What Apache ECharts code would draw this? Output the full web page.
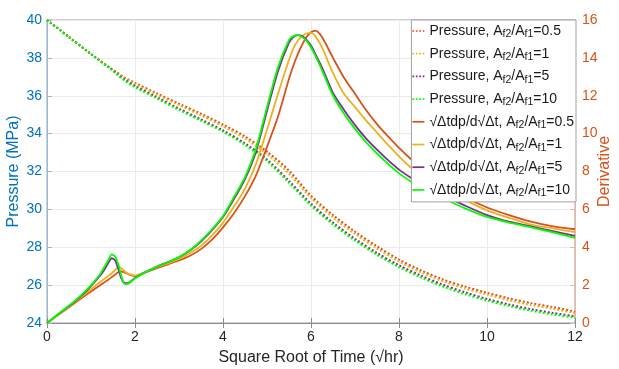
<!DOCTYPE html>
<html>
<head>
<meta charset="utf-8">
<script src="https://cdn.jsdelivr.net/npm/echarts@6/dist/echarts.min.js"></script>
<style>
  html, body { margin: 0; padding: 0; background: #fff; }
  #chart { width: 619px; height: 369px; }
</style>
</head>
<body>
<div id="chart"></div>
<script>
// Square root of time (√hr) sample points for the derivative curves
const derivTime = [0, 0.3, 0.6, 0.9, 1.2, 1.3, 1.4, 1.47, 1.55, 1.62, 1.7, 1.77, 1.85, 2.0, 2.25, 2.5, 2.75, 3.0, 3.25, 3.5, 3.75, 4.0, 4.25, 4.5, 4.75, 5.0, 5.25, 5.5, 5.6, 5.7, 5.8, 5.9, 6.0, 6.1, 6.25, 6.5, 6.75, 7.0, 7.25, 7.5, 7.75, 8.0, 8.25, 8.5, 9.0, 9.5, 10, 10.5, 11, 11.5, 12];

// √Δt dp/d√Δt derivative for each fracture area ratio
const deriv05 = [0, 0.5, 1.0, 1.5, 1.98, 2.14, 2.3, 2.42, 2.56, 2.68, 2.72, 2.66, 2.58, 2.48, 2.68, 2.9, 3.1, 3.3, 3.55, 3.9, 4.4, 5.05, 5.8, 6.7, 7.8, 9.3, 10.9, 12.9, 13.6, 14.2, 14.7, 15.1, 15.35, 15.44, 15.1, 14.0, 12.95, 12.1, 11.25, 10.5, 9.85, 9.25, 8.7, 8.2, 7.4, 6.65, 6.1, 5.7, 5.35, 5.1, 4.95];
const deriv1 = [0, 0.52, 1.05, 1.6, 2.15, 2.33, 2.5, 2.63, 2.8, 2.95, 2.88, 2.72, 2.6, 2.5, 2.72, 2.95, 3.15, 3.38, 3.68, 4.08, 4.62, 5.3, 6.15, 7.1, 8.4, 10.2, 12.1, 13.9, 14.5, 14.9, 15.15, 15.3, 15.32, 15.15, 14.55, 13.2, 12.1, 11.4, 10.7, 10.05, 9.4, 8.8, 8.25, 7.85, 7.1, 6.5, 5.95, 5.55, 5.2, 5.0, 4.8];
const deriv5 = [0, 0.55, 1.08, 1.7, 2.48, 2.8, 3.2, 3.42, 3.3, 2.85, 2.3, 2.1, 2.12, 2.38, 2.7, 2.98, 3.22, 3.47, 3.83, 4.3, 4.9, 5.6, 6.55, 7.6, 9.05, 11.2, 13.3, 14.8, 15.1, 15.2, 15.15, 14.95, 14.65, 14.2, 13.5, 12.15, 11.25, 10.45, 9.75, 9.15, 8.6, 8.1, 7.7, 7.35, 6.75, 6.2, 5.7, 5.35, 5.1, 4.85, 4.6];
const deriv10 = [0, 0.56, 1.1, 1.75, 2.55, 2.95, 3.35, 3.62, 3.5, 3.1, 2.4, 2.05, 2.08, 2.35, 2.7, 2.98, 3.22, 3.48, 3.85, 4.35, 4.95, 5.65, 6.65, 7.7, 9.2, 11.4, 13.5, 14.95, 15.15, 15.2, 15.1, 14.9, 14.55, 14.1, 13.35, 12.0, 11.05, 10.25, 9.55, 8.95, 8.4, 7.9, 7.5, 7.15, 6.6, 6.05, 5.6, 5.3, 5.05, 4.78, 4.5];

// Square root of time (√hr) sample points for the pressure curves
const pressTime = [0, 0.5, 1.0, 1.45, 1.6, 1.75, 2.0, 2.5, 3.0, 3.5, 4.0, 4.5, 5.0, 5.5, 6.0, 6.5, 7.0, 7.5, 8.0, 8.5, 9.0, 9.5, 10, 10.5, 11, 11.5, 12];

// Pressure (MPa) for each fracture area ratio
const press05 = [40, 39.1, 38.2, 37.45, 37.22, 36.98, 36.68, 36.12, 35.58, 35.05, 34.48, 33.85, 33.05, 32.05, 30.72, 29.7, 28.82, 28.05, 27.35, 26.78, 26.3, 25.92, 25.6, 25.3, 25.05, 24.84, 24.6];
const press1 = [40, 39.1, 38.2, 37.44, 37.2, 36.94, 36.62, 36.05, 35.5, 34.96, 34.38, 33.74, 32.92, 31.88, 30.6, 29.57, 28.7, 27.93, 27.24, 26.67, 26.2, 25.82, 25.5, 25.2, 24.95, 24.75, 24.52];
const press5 = [40, 39.1, 38.2, 37.42, 37.15, 36.88, 36.52, 35.92, 35.32, 34.75, 34.17, 33.48, 32.63, 31.5, 30.3, 29.3, 28.45, 27.7, 27.05, 26.5, 26.02, 25.62, 25.27, 24.98, 24.73, 24.53, 24.35];
const press10 = [40, 39.1, 38.2, 37.4, 37.1, 36.82, 36.45, 35.85, 35.25, 34.68, 34.1, 33.4, 32.55, 31.4, 30.2, 29.2, 28.35, 27.6, 26.95, 26.4, 25.92, 25.52, 25.18, 24.9, 24.65, 24.45, 24.28];

const ratios = ['0.5', '1', '5', '10'];
const colors = ['#D95319', '#EDB120', '#7E2F8E', '#00FF00'];
const pressureSets = [press05, press1, press5, press10];
const derivSets = [deriv05, deriv1, deriv5, deriv10];

const FONT = 'Liberation Sans, Arial, sans-serif';
const BLUE = '#0072BD';
const ORANGE = '#D95319';

const pressureNames = ratios.map(r => 'Pressure, A_f2/A_f1=' + r);
const derivNames = ratios.map(r => '√Δtdp/d√Δt, A_f2/A_f1=' + r);

// Legend swatches: a row of dots for the pressure curves, a bar for the derivatives
const DOTTED_ICON = 'path://M0,0H2V2H0Z M4,0H6V2H4Z M8,0H10V2H8Z M12,0H14V2H12Z';
const SOLID_ICON = 'path://M0,0H14V2H0Z';

const pairs = (xs, ys) => xs.map((x, i) => [x, ys[i]]);

const series = [];
pressureSets.forEach((ys, k) => {
  series.push({
    name: pressureNames[k],
    type: 'line',
    xAxisIndex: 0,
    yAxisIndex: 0,
    showSymbol: false,
    symbol: 'none',
    smooth: 0.3,
    color: colors[k],
    lineStyle: { width: 2, type: [2, 2], color: colors[k] },
    data: pairs(pressTime, ys)
  });
});
derivSets.forEach((ys, k) => {
  series.push({
    name: derivNames[k],
    type: 'line',
    xAxisIndex: 0,
    yAxisIndex: 1,
    showSymbol: false,
    symbol: 'none',
    smooth: 0.25,
    color: colors[k],
    lineStyle: { width: 1.8, color: colors[k] },
    data: pairs(derivTime, ys)
  });
});

const legendData = pressureNames.map(n => ({ name: n, icon: DOTTED_ICON }))
  .concat(derivNames.map(n => ({ name: n, icon: SOLID_ICON })));

const chart = echarts.init(document.getElementById('chart'), null, { renderer: 'canvas' });

chart.setOption({
  animation: false,
  backgroundColor: '#fff',
  textStyle: { fontFamily: FONT },
  grid: {
    left: 47, right: 44, top: 20, bottom: 46,
    outerBoundsMode: 'none',
    containLabel: false,
    show: true, borderColor: '#a0a0a0', borderWidth: 1, backgroundColor: '#fff'
  },
  xAxis: [{
    type: 'value', min: 0, max: 12, interval: 2,
    name: 'Square Root of Time (√hr)',
    nameLocation: 'middle', nameGap: 27, nameMoveOverlap: false,
    nameTextStyle: { color: '#262626', fontSize: 16, fontFamily: FONT },
    axisLine: { show: true, onZero: false, lineStyle: { color: '#8c8c8c', width: 1 } },
    axisTick: { show: true, inside: true, length: 5, lineStyle: { color: '#8c8c8c' } },
    axisLabel: { color: '#262626', fontSize: 14, margin: 7, fontFamily: FONT },
    splitLine: { show: true, lineStyle: { color: '#ebebeb', width: 1 } }
  }, {
    type: 'value', position: 'top', min: 0, max: 12, interval: 2,
    axisLine: { show: false },
    axisTick: { show: true, inside: true, length: 5, lineStyle: { color: '#8c8c8c' } },
    axisLabel: { show: false },
    splitLine: { show: false }
  }],
  yAxis: [{
    type: 'value', min: 24, max: 40, interval: 2, position: 'left',
    name: 'Pressure (MPa)',
    nameLocation: 'middle', nameGap: 25, nameRotate: 90, nameMoveOverlap: false,
    nameTextStyle: { color: BLUE, fontSize: 16, fontFamily: FONT },
    axisLine: { show: true, onZero: false, lineStyle: { color: '#8dbde3', width: 1 } },
    axisTick: { show: true, inside: true, length: 5, lineStyle: { color: '#8dbde3' } },
    axisLabel: { color: BLUE, fontSize: 14, margin: 5, fontFamily: FONT },
    splitLine: { show: true, lineStyle: { color: '#ebebeb', width: 1 } }
  }, {
    type: 'value', min: 0, max: 16, interval: 2, position: 'right',
    name: 'Derivative',
    nameLocation: 'middle', nameGap: 22, nameRotate: 90, nameMoveOverlap: false,
    nameTextStyle: { color: ORANGE, fontSize: 16, fontFamily: FONT },
    axisLine: { show: true, onZero: false, lineStyle: { color: '#f0b49a', width: 1 } },
    axisTick: { show: true, inside: true, length: 5, lineStyle: { color: '#f0b49a' } },
    axisLabel: { color: ORANGE, fontSize: 14, margin: 7, fontFamily: FONT },
    splitLine: { show: false }
  }],
  legend: {
    orient: 'vertical',
    right: 43, top: 20,
    backgroundColor: '#fff',
    borderColor: '#a0a0a0', borderWidth: 1, borderRadius: 0,
    padding: [2, 2, 3, 1],
    itemWidth: 12, itemHeight: 2, itemGap: 4.7,
    data: legendData,
    formatter: name => name.replace(/_(f\d)/g, '{s|$1}'),
    textStyle: {
      fontSize: 14, color: '#1a1a1a', fontFamily: FONT, lineHeight: 18,
      rich: {
        s: { fontSize: 10.5, fontFamily: FONT, color: '#1a1a1a', lineHeight: 18, padding: [7, 0, 0, 0] }
      }
    }
  },
  series: series
});
</script>
</body>
</html>
